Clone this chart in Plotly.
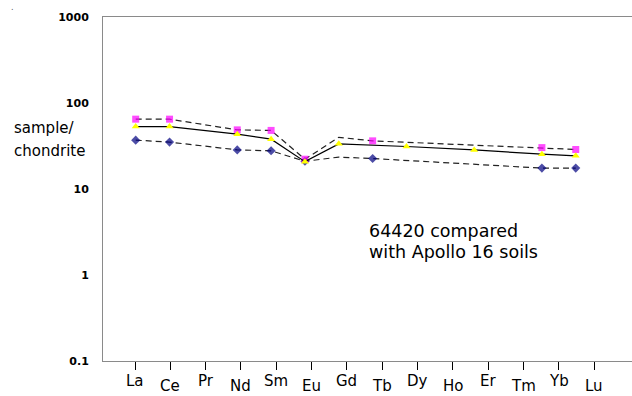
import plotly.graph_objects as go

# ---- data ----
elements = ["La", "Ce", "Pr", "Nd", "Sm", "Eu", "Gd", "Tb", "Dy", "Ho", "Er", "Tm", "Yb", "Lu"]

# upper Apollo 16 soils envelope (magenta squares); Gd point has no marker
upper_vals = [64.9, 64.9, None, 48.7, 48.0, 22.2, 39.9, 36.3, None, None, None, None, 30.3, 28.8]
upper_marked = [True, True, False, True, True, True, False, True, False, False, False, False, True, True]

# 64420 (yellow triangles)
sample_vals = [53.2, 53.2, None, 43.4, 38.0, 20.8, 33.5, None, 31.2, None, 28.5, None, 25.4, 24.3]

# lower Apollo 16 soils envelope (navy diamonds); Gd point has no marker
lower_vals = [37.0, 35.1, None, 28.5, 27.8, 21.0, 23.5, 22.6, None, None, None, None, 17.5, 17.5]
lower_marked = [True, True, False, True, True, True, False, True, False, False, False, False, True, True]

y_tickvals = [0.1, 1, 10, 100, 1000]
y_ticktext = ["0.1", "1", "10", "100", "1000"]

# ---- layout geometry ----
W, H = 632, 396
ML, MR, MT, MB = 103, 0, 17, 35
PW, PH = W - ML - MR, H - MT - MB

FONT = "DejaVu Sans"
DASH = "6px,4px"

fig = go.Figure()

def sizes(marked, s):
    return [s if m else 0 for m in marked]

fig.add_trace(go.Scatter(
    x=elements, y=lower_vals, xaxis="x2", mode="lines+markers", connectgaps=True,
    line=dict(color="#222222", width=1.2, dash=DASH),
    marker=dict(symbol="diamond", color="#000080", size=sizes(lower_marked, 7),
                line=dict(width=0)),
    showlegend=False, hoverinfo="skip"))

fig.add_trace(go.Scatter(
    x=elements, y=upper_vals, xaxis="x2", mode="lines+markers", connectgaps=True,
    line=dict(color="#222222", width=1.2, dash=DASH),
    marker=dict(symbol="square", color="#FF00FF", size=sizes(upper_marked, 7),
                line=dict(width=0)),
    showlegend=False, hoverinfo="skip"))

fig.add_trace(go.Scatter(
    x=elements, y=sample_vals, xaxis="x2", mode="lines+markers", connectgaps=True,
    line=dict(color="#000000", width=1.2),
    marker=dict(symbol="triangle-up", color="#FFFF00", size=7, line=dict(width=0)),
    showlegend=False, hoverinfo="skip"))

# tick axis (labels): La tick at 135 px, spacing 35.33 px
tick_sp = 35.33
t0 = -(135 - ML) / tick_sp
# data axis: La point at 135.7 px, spacing 33.85 px
data_sp = 33.85
d0 = -(135.7 - ML) / data_sp

fig.update_layout(
    width=W, height=H,
    margin=dict(l=ML, r=MR, t=MT, b=MB, autoexpand=False),
    paper_bgcolor="white", plot_bgcolor="white",
    font=dict(family=FONT, color="black"),
    xaxis=dict(
        range=[t0, t0 + PW / tick_sp], tickvals=list(range(len(elements))),
        showticklabels=False, ticks="outside", ticklen=8, tickwidth=1, tickcolor="#000000",
        showline=True, linecolor="#8a8a8a", linewidth=1, mirror=True,
        showgrid=False, zeroline=False, fixedrange=True),
    xaxis2=dict(
        type="category", categoryarray=elements, categoryorder="array",
        range=[d0, d0 + PW / data_sp], overlaying="x", visible=False),
    yaxis=dict(
        type="log", range=[-1, 3], tickvals=y_tickvals, ticktext=y_ticktext,
        ticks="", ticklabelstandoff=11,
        tickfont=dict(family=FONT, size=11, color="black", weight="bold"),
        showline=True, linecolor="#8a8a8a", linewidth=1,
        showgrid=False, zeroline=False),
)

def py(pixel_y):
    return (MT + PH - pixel_y) / PH

def px(pixel_x):
    return (pixel_x - ML) / PW

ann = []
# staggered x labels
for i, name in enumerate(elements):
    yc = 380.5 if i % 2 == 0 else 386.0
    ann.append(dict(x=i, xref="x", y=py(yc), yref="paper", text=name, showarrow=False,
                    xanchor="center", yanchor="middle",
                    font=dict(family=FONT, size=15, color="black")))

# y title
ann.append(dict(x=px(11.5), xref="paper", y=py(128), yref="paper", text="sample/",
                showarrow=False, xanchor="left", yanchor="middle",
                font=dict(family=FONT, size=15, color="black")))
ann.append(dict(x=px(11.5), xref="paper", y=py(151), yref="paper", text="chondrite",
                showarrow=False, xanchor="left", yanchor="middle",
                font=dict(family=FONT, size=15, color="black")))

# note text
ann.append(dict(x=px(367), xref="paper", y=py(231), yref="paper", text="64420 compared",
                showarrow=False, xanchor="left", yanchor="middle",
                font=dict(family=FONT, size=17.5, color="black")))
ann.append(dict(x=px(367), xref="paper", y=py(252), yref="paper", text="with Apollo 16 soils",
                showarrow=False, xanchor="left", yanchor="middle",
                font=dict(family=FONT, size=17.5, color="black")))

# small dot artefact at top-left
ann.append(dict(x=px(12), xref="paper", y=py(8), yref="paper", text=".",
                showarrow=False, xanchor="center", yanchor="middle",
                font=dict(family=FONT, size=8, color="#555555")))

fig.update_layout(annotations=ann)

fig.write_html("out.html")
